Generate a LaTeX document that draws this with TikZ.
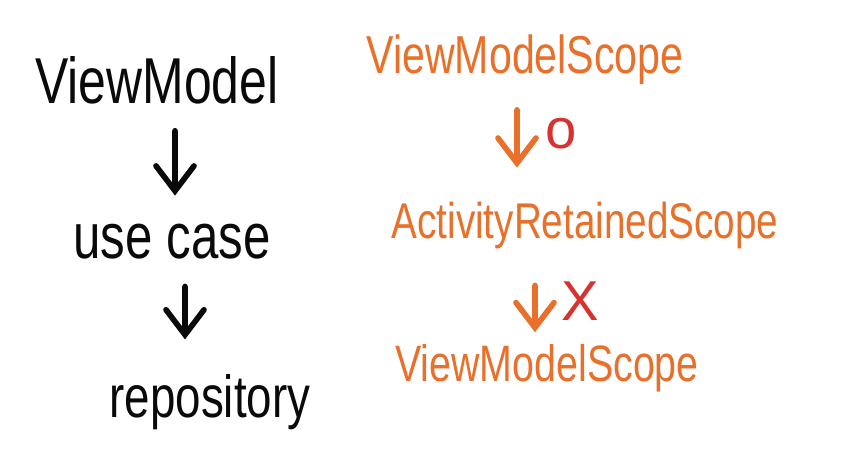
\documentclass[tikz,border=0pt]{standalone}
\usepackage{fontspec}
\setmainfont{Liberation Sans}
\usetikzlibrary{arrows.meta,positioning}
\definecolor{carrot}{RGB}{232,112,42}
\definecolor{scarlet}{RGB}{214,50,48}
\definecolor{ink}{RGB}{10,10,10}
\tikzset{
  hand/.style={text=#1,inner sep=0pt,yscale=1.3,transform shape},
  hand/.default=ink,
  down/.style={-{Straight Barb[length=2.5mm,width=3.8mm,line cap=round]},
    line width=1.6pt,line cap=round,draw=#1},
  down/.default=ink,
  verdict/.style={text=scarlet,inner sep=0pt,font=\fontsize{16}{19}\selectfont},
}

\begin{document}
\begin{tikzpicture}
  \useasboundingbox (0,0) rectangle (8.52,4.72);
  % left column
  \node[hand,font=\fontsize{14.2}{17}\selectfont] (vm) at (1.57,3.92) {ViewModel};
  \node[hand,font=\fontsize{14}{17}\selectfont] (uc) at (1.72,2.30) {use case};
  \node[hand,font=\fontsize{13}{16}\selectfont] (repo) at (2.10,0.70) {repository};
  \draw[down] ([xshift=1.8mm,yshift=-2.6mm]vm.south) -- ([xshift=0.3mm,yshift=2.8mm]uc.north);
  \draw[down] ([xshift=1.3mm,yshift=-2.6mm]uc.south) -- ([xshift=-2.5mm,yshift=3.4mm]repo.north);
  % right column
  \node[hand=carrot,font=\fontsize{11.7}{14}\selectfont] (vms) at (5.25,4.12) {ViewModelScope};
  \node[hand=carrot,font=\fontsize{11}{13}\selectfont] (ars) at (5.85,2.47) {ActivityRetainedScope};
  \node[hand=carrot,font=\fontsize{11.2}{13}\selectfont] (vms2) at (5.47,1.04) {ViewModelScope};
  \draw[down=carrot] ([xshift=-0.8mm,yshift=-2.4mm]vms.south) -- ([xshift=-6.8mm,yshift=3.3mm]ars.north);
  \draw[down=carrot] ([xshift=-5.0mm,yshift=-3.6mm]ars.south) -- ([xshift=-1.2mm,yshift=1.1mm]vms2.north);
  \node[verdict] (ok) at ([xshift=3.6mm,yshift=-4.8mm]vms.south) {o};
  \node[verdict] (no) at ([xshift=-0.5mm,yshift=-5.2mm]ars.south) {X};
\end{tikzpicture}
\end{document}
